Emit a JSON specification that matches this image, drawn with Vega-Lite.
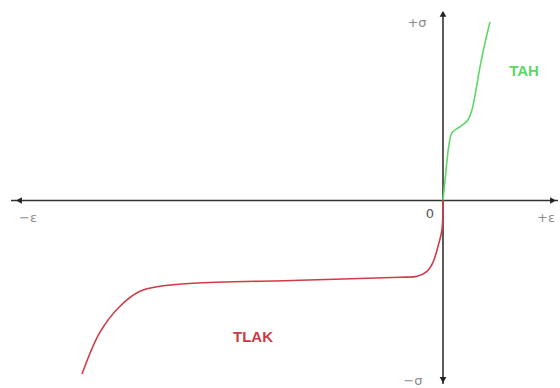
{
  "$schema": "https://vega.github.io/schema/vega-lite/v6.json",
  "width": 560,
  "height": 388,
  "padding": 0,
  "autosize": {"type": "fit", "contains": "padding"},
  "background": "white",
  "config": {"view": {"stroke": null}},
  "datasets": {
    "curves": [
      {"curve": "TAH", "i": 0, "eps": 0, "sigma": 0},
      {"curve": "TAH", "i": 1, "eps": 2, "sigma": 20},
      {"curve": "TAH", "i": 2, "eps": 4, "sigma": 40},
      {"curve": "TAH", "i": 3, "eps": 6, "sigma": 56},
      {"curve": "TAH", "i": 4, "eps": 9, "sigma": 68},
      {"curve": "TAH", "i": 5, "eps": 14, "sigma": 72},
      {"curve": "TAH", "i": 6, "eps": 20, "sigma": 76},
      {"curve": "TAH", "i": 7, "eps": 25, "sigma": 81},
      {"curve": "TAH", "i": 8, "eps": 29, "sigma": 91},
      {"curve": "TAH", "i": 9, "eps": 33, "sigma": 111},
      {"curve": "TAH", "i": 10, "eps": 37, "sigma": 134},
      {"curve": "TAH", "i": 11, "eps": 42, "sigma": 158},
      {"curve": "TAH", "i": 12, "eps": 47, "sigma": 179},
      {"curve": "TLAK", "i": 0, "eps": 0, "sigma": 0},
      {"curve": "TLAK", "i": 1, "eps": -1, "sigma": -29},
      {"curve": "TLAK", "i": 2, "eps": -5, "sigma": -46},
      {"curve": "TLAK", "i": 3, "eps": -10, "sigma": -62},
      {"curve": "TLAK", "i": 4, "eps": -16, "sigma": -71},
      {"curve": "TLAK", "i": 5, "eps": -26, "sigma": -76},
      {"curve": "TLAK", "i": 6, "eps": -43, "sigma": -77},
      {"curve": "TLAK", "i": 7, "eps": -143, "sigma": -80},
      {"curve": "TLAK", "i": 8, "eps": -250, "sigma": -83},
      {"curve": "TLAK", "i": 9, "eps": -283, "sigma": -86},
      {"curve": "TLAK", "i": 10, "eps": -303, "sigma": -91},
      {"curve": "TLAK", "i": 11, "eps": -323, "sigma": -106},
      {"curve": "TLAK", "i": 12, "eps": -343, "sigma": -132},
      {"curve": "TLAK", "i": 13, "eps": -361, "sigma": -174}
    ],
    "arrows": [
      {"eps": 0, "sigma": 187, "shape": "triangle-up"},
      {"eps": 0, "sigma": -180, "shape": "triangle-down"},
      {"eps": -424, "sigma": 0, "shape": "triangle-left"},
      {"eps": 110, "sigma": 0, "shape": "triangle-right"}
    ],
    "labels": [
      {"text": "+σ", "eps": -26, "sigma": 178, "kind": "axis"},
      {"text": "−σ", "eps": -30, "sigma": -181, "kind": "axis"},
      {"text": "−ε", "eps": -415, "sigma": -18, "kind": "axis"},
      {"text": "+ε", "eps": 103, "sigma": -18, "kind": "axis"},
      {"text": "0", "eps": -13, "sigma": -14, "kind": "zero"},
      {"text": "TAH", "eps": 81, "sigma": 130, "kind": "TAH"},
      {"text": "TLAK", "eps": -190, "sigma": -137, "kind": "TLAK"}
    ]
  },
  "layer": [
    {
      "data": {"values": [{"a": -432, "b": 115}]},
      "mark": {"type": "rule", "color": "#333333", "strokeWidth": 1.6},
      "encoding": {
        "x": {"field": "a", "type": "quantitative", "scale": {"domain": [-443, 117], "nice": false, "zero": false}, "axis": null},
        "x2": {"field": "b"},
        "y": {"datum": 0, "type": "quantitative", "scale": {"domain": [-187, 201], "nice": false, "zero": false}, "axis": null}
      }
    },
    {
      "data": {"values": [{"a": -184, "b": 189}]},
      "mark": {"type": "rule", "color": "#333333", "strokeWidth": 1.6},
      "encoding": {
        "x": {"datum": 0, "type": "quantitative"},
        "y": {"field": "a", "type": "quantitative"},
        "y2": {"field": "b"}
      }
    },
    {
      "data": {"name": "arrows"},
      "mark": {"type": "point", "filled": true, "color": "#222222", "opacity": 1, "size": 45},
      "encoding": {
        "x": {"field": "eps", "type": "quantitative"},
        "y": {"field": "sigma", "type": "quantitative"},
        "shape": {"field": "shape", "type": "nominal", "scale": null}
      }
    },
    {
      "data": {"name": "curves"},
      "transform": [{"filter": "datum.curve === 'TAH'"}],
      "mark": {"type": "line", "interpolate": "catmull-rom", "strokeWidth": 1.6, "color": "#5ed866"},
      "encoding": {
        "x": {"field": "eps", "type": "quantitative"},
        "y": {"field": "sigma", "type": "quantitative"},
        "order": {"field": "i"}
      }
    },
    {
      "data": {"name": "curves"},
      "transform": [{"filter": "datum.curve === 'TLAK'"}],
      "mark": {"type": "line", "interpolate": "catmull-rom", "strokeWidth": 1.6, "color": "#cf3c48"},
      "encoding": {
        "x": {"field": "eps", "type": "quantitative"},
        "y": {"field": "sigma", "type": "quantitative"},
        "order": {"field": "i"}
      }
    },
    {
      "data": {"name": "labels"},
      "transform": [{"filter": "datum.kind === 'axis'"}],
      "mark": {"type": "text", "font": "DejaVu Sans", "fontSize": 13, "align": "center", "baseline": "middle", "color": "#8c8c8c"},
      "encoding": {
        "x": {"field": "eps", "type": "quantitative"},
        "y": {"field": "sigma", "type": "quantitative"},
        "text": {"field": "text"}
      }
    },
    {
      "data": {"name": "labels"},
      "transform": [{"filter": "datum.kind === 'zero'"}],
      "mark": {"type": "text", "font": "DejaVu Sans", "fontSize": 13, "align": "center", "baseline": "middle", "color": "#555555"},
      "encoding": {
        "x": {"field": "eps", "type": "quantitative"},
        "y": {"field": "sigma", "type": "quantitative"},
        "text": {"field": "text"}
      }
    },
    {
      "data": {"name": "labels"},
      "transform": [{"filter": "datum.kind === 'TAH'"}],
      "mark": {"type": "text", "font": "Liberation Sans", "fontWeight": "bold", "fontSize": 15, "align": "center", "baseline": "middle", "color": "#5ad863"},
      "encoding": {
        "x": {"field": "eps", "type": "quantitative"},
        "y": {"field": "sigma", "type": "quantitative"},
        "text": {"field": "text"}
      }
    },
    {
      "data": {"name": "labels"},
      "transform": [{"filter": "datum.kind === 'TLAK'"}],
      "mark": {"type": "text", "font": "Liberation Sans", "fontWeight": "bold", "fontSize": 15, "align": "center", "baseline": "middle", "color": "#cc3a45"},
      "encoding": {
        "x": {"field": "eps", "type": "quantitative"},
        "y": {"field": "sigma", "type": "quantitative"},
        "text": {"field": "text"}
      }
    }
  ]
}
